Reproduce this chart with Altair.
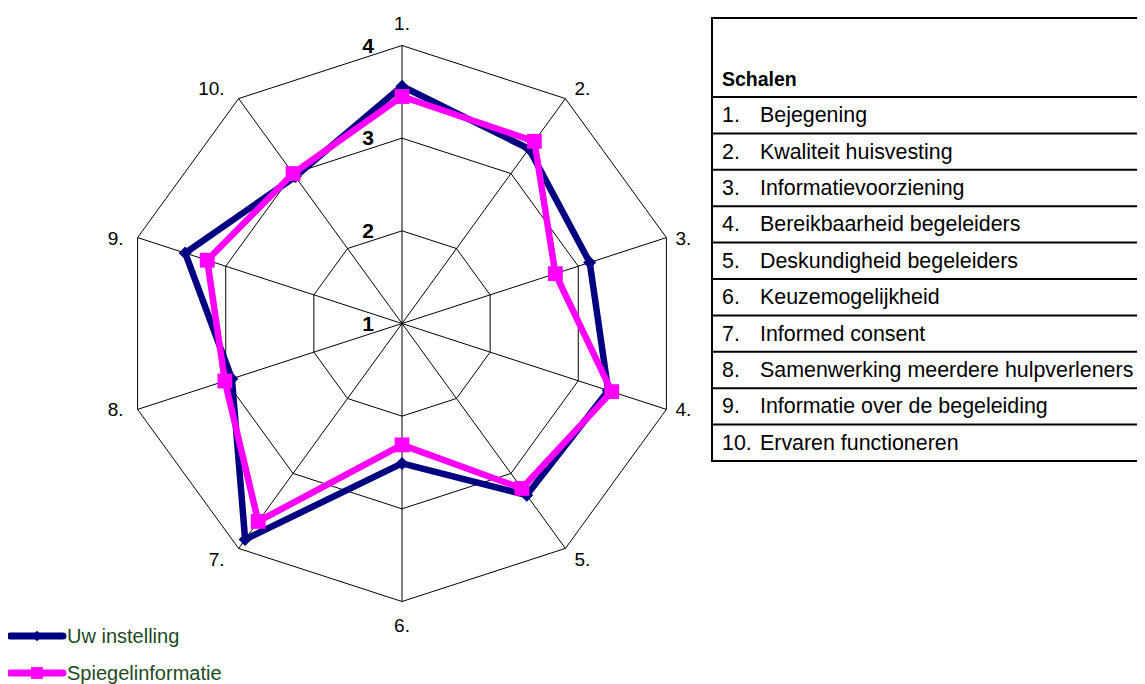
import altair as alt
import pandas as pd

# ---------------- data ----------------
axis_labels = ["1.", "2.", "3.", "4.", "5.", "6.", "7.", "8.", "9.", "10."]
scale_names = [
    "Bejegening",
    "Kwaliteit huisvesting",
    "Informatievoorziening",
    "Bereikbaarheid begeleiders",
    "Deskundigheid begeleiders",
    "Keuzemogelijkheid",
    "Informed consent",
    "Samenwerking meerdere hulpverleners",
    "Informatie over de begeleiding",
    "Ervaren functioneren",
]
uw_instelling = [3.56, 3.33, 3.13, 3.34, 3.29, 2.51, 3.88, 2.93, 3.46, 2.96]
spiegelinformatie = [3.45, 3.43, 2.74, 3.38, 3.20, 2.31, 3.64, 3.01, 3.21, 3.00]
ring_values = [1, 2, 3, 4]
series_names = ["Uw instelling", "Spiegelinformatie"]
table_header = "Schalen"

# ---------------- layout constants ----------------
W, H = 1129, 676
CX, CY = 402.0, 323.5          # radar centre in page pixels
VMIN, VMAX = 1, 4
RPX = 278.0                     # outer ring radius in pixels
K = RPX / (VMAX - VMIN)         # pixels per scale unit
NAX = len(axis_labels)
XDOM = [8 - CX, 8 + W - CX]
YDOM = [CY - (8 + H), CY - 8]
FONT = "Liberation Sans, Arial, sans-serif"
NAVY = "#000080"
MAGENTA = "#FF00FF"
LEG_TEXT = "#1e4a1e"

xs = alt.Scale(domain=XDOM, nice=False, zero=False)
ys = alt.Scale(domain=YDOM, nice=False, zero=False)


def X(f):
    return alt.X(f"{f}:Q", scale=xs, axis=None)


def Y(f):
    return alt.Y(f"{f}:Q", scale=ys, axis=None)


ang = f"datum.idx*2*PI/{NAX}"

# ---------------- grid ----------------
grid_df = pd.DataFrame(
    [{"level": lv, "idx": i} for lv in ring_values[1:] for i in range(NAX + 1)]
)
grid = (
    alt.Chart(grid_df)
    .transform_calculate(
        x=f"(datum.level-{VMIN})*{K}*sin({ang})",
        y=f"(datum.level-{VMIN})*{K}*cos({ang})",
    )
    .mark_line(color="black", strokeWidth=1)
    .encode(x=X("x"), y=Y("y"), detail="level:N", order="idx:Q")
)

spoke_df = pd.DataFrame({"idx": list(range(NAX))})
spokes = (
    alt.Chart(spoke_df)
    .transform_calculate(
        x0="0",
        y0="0",
        x1=f"{RPX}*sin({ang})",
        y1=f"{RPX}*cos({ang})",
    )
    .mark_rule(color="black", strokeWidth=1)
    .encode(x=X("x0"), y=Y("y0"), x2="x1:Q", y2="y1:Q")
)

# axis labels, anchored outside each outer vertex
lab_df = pd.DataFrame({"idx": list(range(NAX)), "label": axis_labels})
lab_base = alt.Chart(lab_df).transform_calculate(
    s=f"sin({ang})", c=f"cos({ang})"
).transform_calculate(
    yoff="abs(datum.s) < 0.1 ? 23*datum.c : (abs(datum.c) > 0.5 ? 13*datum.c : 0)",
).transform_calculate(
    y=f"{RPX}*datum.c + datum.yoff",
    xc=f"{RPX}*datum.s",
    xr=f"{RPX}*datum.s + 9",
    xl=f"{RPX}*datum.s - 14",
)
lab_style = dict(font=FONT, fontSize=19, baseline="middle", color="black", dy=1)
lab_center = lab_base.transform_filter("abs(datum.s) < 0.1").mark_text(
    align="center", **lab_style).encode(x=X("xc"), y=Y("y"), text="label:N")
lab_right = lab_base.transform_filter("datum.s >= 0.1").mark_text(
    align="left", **lab_style).encode(x=X("xr"), y=Y("y"), text="label:N")
lab_left = lab_base.transform_filter("datum.s <= -0.1").mark_text(
    align="right", **lab_style).encode(x=X("xl"), y=Y("y"), text="label:N")

ring_df = pd.DataFrame({"v": ring_values})
ring_text = (
    alt.Chart(ring_df)
    .transform_calculate(x="-28", y=f"(datum.v-{VMIN})*{K}", t="toString(datum.v)")
    .mark_text(font=FONT, fontSize=21, fontWeight="bold", align="right",
               baseline="middle", color="black", dy=1)
    .encode(x=X("x"), y=Y("y"), text="t:N")
)

# ---------------- series ----------------
rows = []
for name, vals in zip(series_names, [uw_instelling, spiegelinformatie]):
    for i in range(NAX + 1):
        rows.append({"series": name, "idx": i, "value": vals[i % NAX]})
ser_df = pd.DataFrame(rows)

base = alt.Chart(ser_df).transform_calculate(
    x=f"(datum.value-{VMIN})*{K}*sin({ang})",
    y=f"(datum.value-{VMIN})*{K}*cos({ang})",
)


def series_layers(name, color, shape, size):
    b = base.transform_filter(alt.datum.series == name)
    line = b.mark_line(color=color, strokeWidth=6.5, strokeJoin="miter").encode(
        x=X("x"), y=Y("y"), order="idx:Q"
    )
    pts = b.transform_filter(f"datum.idx < {NAX}").mark_point(
        shape=shape, size=size, filled=True, color=color, opacity=1
    ).encode(x=X("x"), y=Y("y"))
    return [line, pts]


navy_layers = series_layers(series_names[0], NAVY, "diamond", 170)
mag_layers = series_layers(series_names[1], MAGENTA, "square", 220)

# ---------------- legend (bottom left) ----------------
leg_df = pd.DataFrame({"series": series_names, "k": [0, 1]})
leg_base = alt.Chart(leg_df).transform_calculate(
    xa=f"{10 - CX}",
    xb=f"{63 - CX}",
    xm=f"{37 - CX}",
    xt=f"{67 - CX}",
    y=f"{CY} - (636 + 37*datum.k)",
)
leg_col = alt.Color("series:N", scale=alt.Scale(domain=series_names,
                                                 range=[NAVY, MAGENTA]), legend=None)
leg_line = leg_base.mark_rule(strokeWidth=7, strokeCap="round").encode(
    x=X("xa"), x2="xb:Q", y=Y("y"), color=leg_col
)
leg_pt_navy = leg_base.transform_filter("datum.k == 0").mark_point(
    shape="diamond", size=110, filled=True, opacity=1, color=NAVY
).encode(x=X("xm"), y=Y("y"))
leg_pt_mag = leg_base.transform_filter("datum.k == 1").mark_point(
    shape="square", size=140, filled=True, opacity=1, color=MAGENTA
).encode(x=X("xm"), y=Y("y"))
leg_text = leg_base.mark_text(
    font=FONT, fontSize=20, align="left", baseline="middle", color=LEG_TEXT, dy=1
).encode(x=X("xt"), y=Y("y"), text="series:N")

# ---------------- table (right) ----------------
T_LEFT, T_TOP, T_HEAD, T_ROW = 712, 18, 97, 36.4
tab_df = pd.DataFrame({"num": axis_labels, "name": scale_names,
                       "i": list(range(1, NAX + 1))})
tab_base = alt.Chart(tab_df).transform_calculate(
    xn=f"{T_LEFT + 10 - CX}",
    xt=f"{T_LEFT + 48 - CX}",
    y=f"{CY} - ({T_HEAD} + (datum.i - 0.5)*{T_ROW})",
)
tab_num = tab_base.mark_text(font=FONT, fontSize=21.4, align="left",
                             baseline="middle", color="black", dy=1).encode(
    x=X("xn"), y=Y("y"), text="num:N")
tab_name = tab_base.mark_text(font=FONT, fontSize=21.4, align="left",
                              baseline="middle", color="black", dy=1).encode(
    x=X("xt"), y=Y("y"), text="name:N")

head_df = pd.DataFrame({"t": [table_header]})
tab_head = (
    alt.Chart(head_df)
    .transform_calculate(x=f"{T_LEFT + 10 - CX}", y=f"{CY} - 79")
    .mark_text(font=FONT, fontSize=19.5, fontWeight="bold", align="left",
               baseline="middle", color="black", dy=1)
    .encode(x=X("x"), y=Y("y"), text="t:N")
)

hl_df = pd.DataFrame({"k": list(range(-1, NAX + 1))})
hlines = (
    alt.Chart(hl_df)
    .transform_calculate(
        xa=f"{T_LEFT - CX}",
        xb=f"{XDOM[1]}",
        y=f"{CY} - (datum.k < 0 ? {T_TOP} : {T_HEAD} + datum.k*{T_ROW})",
    )
    .mark_rule(color="black", strokeWidth=2)
    .encode(x=X("xa"), x2="xb:Q", y=Y("y"))
)
vl_df = pd.DataFrame({"k": [0]})
vline = (
    alt.Chart(vl_df)
    .transform_calculate(
        x=f"{T_LEFT - CX}",
        ya=f"{CY - T_TOP + 1}",
        yb=f"{CY} - ({T_HEAD} + {NAX}*{T_ROW}) - 1",
    )
    .mark_rule(color="black", strokeWidth=2)
    .encode(x=X("x"), y=Y("ya"), y2="yb:Q")
)

chart = (
    alt.layer(
        grid, spokes, lab_center, lab_right, lab_left, ring_text,
        *navy_layers, *mag_layers,
        leg_line, leg_pt_navy, leg_pt_mag, leg_text,
        hlines, vline, tab_head, tab_num, tab_name,
    )
    .properties(width=W, height=H, padding=0,
                autosize=alt.AutoSizeParams(type="none"))
    .configure_view(strokeWidth=0)
)

chart.save("out.html", embed_options={"renderer": "svg", "actions": False})
